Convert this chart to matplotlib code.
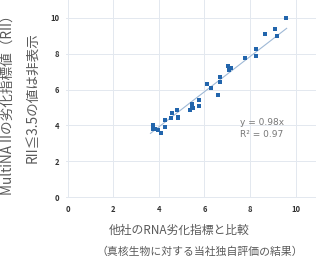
import matplotlib
matplotlib.use("Agg")
import matplotlib.pyplot as plt
import numpy as np

plt.rcParams['font.family'] = ['Noto Sans CJK JP', 'DejaVu Sans']

# other company's RNA degradation index vs MultiNA II RII
other_idx = [3.75, 3.75, 3.85, 3.95, 4.08, 4.27, 4.27, 4.55, 4.58, 4.78, 4.86, 4.86,
             5.38, 5.45, 5.47, 5.48, 5.78, 5.78, 6.10, 6.30, 6.60, 6.68, 6.68,
             7.05, 7.08, 7.18, 7.06, 7.78, 8.28, 8.28, 8.68, 9.08, 9.17, 9.60]
rii = [4.01, 3.82, 3.80, 3.76, 3.60, 3.90, 4.29, 4.42, 4.70, 4.88, 4.47, 4.40,
       4.88, 5.22, 5.08, 4.97, 5.40, 5.09, 6.30, 6.09, 5.68, 6.69, 6.41,
       7.30, 7.15, 7.19, 7.07, 7.78, 8.28, 7.89, 9.08, 9.38, 8.99, 9.99]
slope = 0.98
r2 = 0.97
fit_range = [3.63, 9.61]
ticks = [0, 2, 4, 6, 8, 10]

fig = plt.figure(figsize=(3.18, 2.60), dpi=100)
ax = fig.add_axes([66/318, 62/260, 250/318, 198/260])

fx = np.array(fit_range)
ax.plot(fx, slope*fx, color='#9fb9d6', lw=0.8, zorder=2)
ax.scatter(other_idx, rii, marker='s', s=9, color='#2265ac', zorder=3, linewidths=0)

ax.text(7.56, 4.15, 'y = %.2fx' % slope, fontsize=6.5, color='#777777', va='center', family=['DejaVu Sans'])
ax.text(7.56, 3.52, 'R² = %.2f' % r2, fontsize=6.5, color='#777777', va='center', family=['DejaVu Sans'])

ax.set_xlim(-0.08, 10.9)
ax.set_ylim(-0.05, 11)
ax.set_xticks(ticks)
ax.set_yticks(ticks)
ax.set_xticklabels([str(t) for t in ticks], fontsize=5.5, fontweight='bold', color='#333333')
ax.set_yticklabels([str(t) for t in ticks], fontsize=5.5, fontweight='bold', color='#333333')
ax.tick_params(length=0, pad=5)
for s in ax.spines.values():
    s.set_visible(False)
ax.grid(True, color='#e3e8ef', lw=0.7)
ax.set_axisbelow(True)

fig.text(8/318, 1 - 102/260, 'MultiNA IIの劣化指標値（RII）', rotation=90,
         ha='center', va='center', fontsize=9.8, color='#5a5a5a')
fig.text(33/318, 1 - 98/260, 'RII≦3.5の値は非表示', rotation=90,
         ha='center', va='center', fontsize=9.8, color='#5a5a5a')
fig.text(179/318, 1 - 230/260, '他社のRNA劣化指標と比較', ha='center', va='center',
         fontsize=8.5, color='#5a5a5a')
fig.text(200/318, 1 - 252/260, '（真核生物に対する当社独自評価の結果）', ha='center', va='center',
         fontsize=7.8, color='#5a5a5a')

fig.savefig('out.png', dpi=100)
